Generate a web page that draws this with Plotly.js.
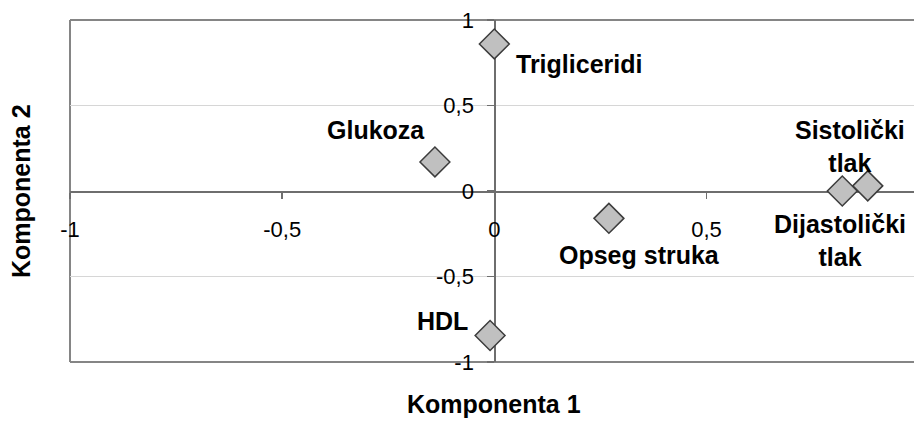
<!DOCTYPE html>
<html>
<head>
<meta charset="utf-8">
<script src="https://cdn.plot.ly/plotly-3.0.1.min.js"></script>
<style>html,body{margin:0;padding:0;background:#fff;}#chart{width:914px;height:421px;}</style>
</head>
<body>
<div id="chart"></div>
<script>
// ---- data ----
const variables = ["Trigliceridi", "Glukoza", "Sistolički<br>tlak", "Dijastolički<br>tlak", "Opseg struka", "HDL"];
const komponenta1 = [0.00, -0.14, 0.88, 0.82, 0.27, -0.01];
const komponenta2 = [0.86, 0.17, 0.03, 0.00, -0.16, -0.845];
const xTickVals = [-1, -0.5, 0, 0.5, 1];
const xTickText = ["-1", "-0,5", "0", "0,5", "1"];
const yTickVals = [-1, -0.5, 0, 0.5, 1];
const yTickText = ["-1", "-0,5", "0", "0,5", "1"];
const xTitle = "Komponenta 1";
const yTitle = "Komponenta 2";

// ---- style (label offsets in px) ----
const labelOffsets = [
  {dx: 20, dy: -20, xa: "left"},
  {dx: -59, dy: 32, xa: "center"},
  {dx: -18, dy: 39, xa: "center"},
  {dx: -2, dy: -49, xa: "center"},
  {dx: 31, dy: -37, xa: "center"},
  {dx: -48, dy: 15, xa: "center"}
];

const xRange = [-1, 0.989];
const yRange = [-1, 1];
const frameColor = "#858585";
const axisColor = "#6e6e6e";

const trace = {
  x: komponenta1,
  y: komponenta2,
  mode: "markers",
  type: "scatter",
  marker: {symbol: "diamond", size: 23, color: "#c0c0c0", line: {color: "#3c3c3c", width: 1.5}},
  hoverinfo: "skip",
  cliponaxis: false
};

const labelFont = {family: "Liberation Sans, Arial, sans-serif", size: 25, color: "#000"};
const annotations = variables.map((t, i) => ({
  x: komponenta1[i], y: komponenta2[i], xref: "x", yref: "y",
  text: "<b>" + t + "</b>", showarrow: false,
  xanchor: labelOffsets[i].xa, yanchor: "middle",
  xshift: labelOffsets[i].dx, yshift: labelOffsets[i].dy,
  font: labelFont
}));
annotations.push({
  x: (0 - xRange[0]) / (xRange[1] - xRange[0]), y: -0.123, xref: "paper", yref: "paper",
  text: "<b>" + xTitle + "</b>", showarrow: false, xanchor: "center", yanchor: "middle",
  font: labelFont
});
annotations.push({
  x: -0.058, y: 0.5, xref: "paper", yref: "paper", textangle: -90,
  text: "<b>" + yTitle + "</b>", showarrow: false, xanchor: "center", yanchor: "middle",
  font: labelFont
});

const tickFont = {family: "Liberation Sans, Arial, sans-serif", size: 22, color: "#000"};

const layout = {
  width: 914, height: 421,
  margin: {l: 70, r: 0, t: 20, b: 59},
  paper_bgcolor: "#fff", plot_bgcolor: "#fff",
  showlegend: false,
  xaxis: {
    range: xRange, anchor: "free",
    position: (0 - yRange[0]) / (yRange[1] - yRange[0]),
    tickmode: "array", tickvals: xTickVals, ticktext: xTickText,
    ticks: "outside", ticklen: 6, tickwidth: 1.5, tickcolor: axisColor,
    ticklabelstandoff: 12,
    showline: true, linecolor: axisColor, linewidth: 1.5,
    showgrid: false, zeroline: false,
    tickfont: tickFont, layer: "below traces", fixedrange: true
  },
  yaxis: {
    range: yRange, anchor: "free",
    position: (0 - xRange[0]) / (xRange[1] - xRange[0]),
    tickmode: "array", tickvals: yTickVals, ticktext: yTickText,
    ticks: "outside", ticklen: 7, tickwidth: 1.5, tickcolor: axisColor,
    ticklabelstandoff: 9,
    showline: true, linecolor: axisColor, linewidth: 1.5,
    showgrid: true, gridcolor: "#d6d6d6", gridwidth: 1,
    zeroline: false,
    tickfont: tickFont, layer: "below traces", fixedrange: true
  },
  shapes: [
    {type: "line", xref: "paper", yref: "paper", x0: 0, x1: 1.01, y0: 1, y1: 1, line: {color: frameColor, width: 2}, layer: "below"},
    {type: "line", xref: "paper", yref: "paper", x0: 0, x1: 1.01, y0: 0, y1: 0, line: {color: frameColor, width: 2}, layer: "below"},
    {type: "line", xref: "paper", yref: "paper", x0: 0, x1: 0, y0: 0, y1: 1, line: {color: frameColor, width: 2}, layer: "below"}
  ],
  annotations: annotations
};

Plotly.newPlot("chart", [trace], layout, {displayModeBar: false, staticPlot: true});
</script>
</body>
</html>
